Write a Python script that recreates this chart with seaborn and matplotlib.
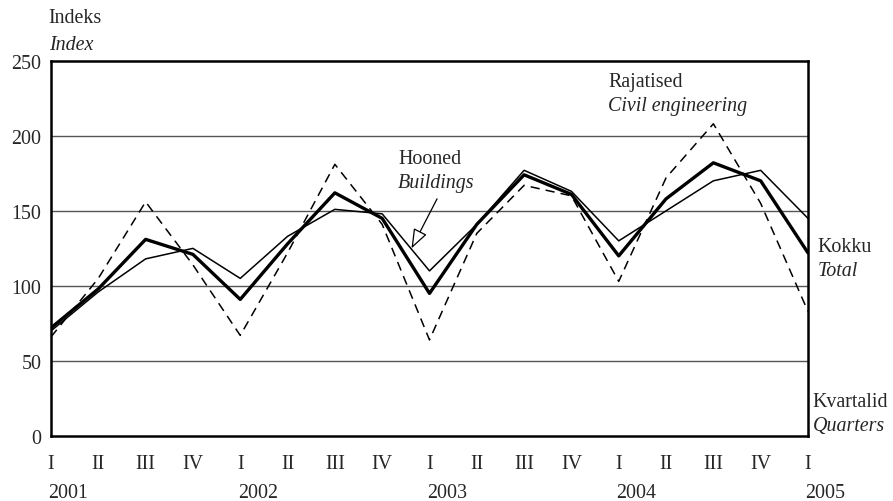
import numpy as np
import pandas as pd
import matplotlib
matplotlib.use("Agg")
import matplotlib.pyplot as plt
import seaborn as sns

# quarters 2001 I .. 2005 I
quarters = ["I", "II", "III", "IV"] * 4 + ["I"]
years = ["2001", "2002", "2003", "2004", "2005"]

total = [72, 98, 131, 121, 91, 128, 162, 145, 95, 141, 174, 161, 120, 158, 182, 170, 122]
buildings = [70, 96, 118, 125, 105, 133, 151, 148, 110, 141, 177, 163, 130, 150, 170, 177, 145]
civil = [66, 105, 156, 114, 67, 122, 181, 141, 64, 135, 167, 160, 103, 172, 208, 155, 83]

df = pd.DataFrame({"q": np.arange(len(total)), "total": total,
                   "buildings": buildings, "civil": civil})

sns.set_style("white")
plt.rcParams['font.family'] = ['Liberation Serif', 'DejaVu Serif']
fs = 14.4

fig = plt.figure(figsize=(8.93, 5.02), dpi=100)
ax = fig.add_axes([0.0571, 0.1295, 0.9048 - 0.0571, 0.877 - 0.1295])

for v in [50, 100, 150, 200]:
    ax.axhline(v, color="#555555", lw=1.0, zorder=1)

sns.lineplot(data=df, x="q", y="civil", ax=ax, color="black", lw=1.1, zorder=3)
ax.lines[-1].set_dashes((6, 4))
sns.lineplot(data=df, x="q", y="buildings", ax=ax, color="black", lw=1.1, zorder=4)
sns.lineplot(data=df, x="q", y="total", ax=ax, color="black", lw=2.4, zorder=5)

ax.set_xlim(0, 16)
ax.set_ylim(0, 250)
ax.set_yticks([0, 50, 100, 150, 200, 250])
ax.set_xticks(df["q"])
ax.set_xticklabels(quarters, fontsize=fs)
ax.tick_params(axis="x", direction="in", length=5, width=1, pad=13)
ax.tick_params(axis="y", length=0, pad=7, labelsize=fs)
ax.set_xlabel("")
ax.set_ylabel("")
for s in ax.spines.values():
    s.set_linewidth(1.8)
    s.set_color("black")

trans = ax.get_xaxis_transform()
for i, yr in enumerate(years):
    ax.text(i * 4 - 0.05, -0.125, yr, transform=trans, ha="left", va="top",
            fontsize=fs, clip_on=False)

ax.text(-0.05, 279, "Indeks", fontsize=fs, va="center", ha="left", clip_on=False)
ax.text(-0.05, 261, "Index", fontsize=fs, va="center", ha="left", style="italic", clip_on=False)

ax.text(7.34, 185, "Hooned", fontsize=fs, va="center", ha="left")
ax.text(7.34, 169, "Buildings", fontsize=fs, va="center", ha="left", style="italic")
ax.annotate("", xy=(7.62, 125), xytext=(8.16, 158),
            arrowprops=dict(arrowstyle="-|>,head_length=1.2,head_width=0.45",
                            facecolor="white", edgecolor="black", lw=0.9,
                            shrinkA=0, shrinkB=0))

ax.text(11.78, 236, "Rajatised", fontsize=fs, va="center", ha="left")
ax.text(11.78, 220, "Civil engineering", fontsize=fs, va="center", ha="left", style="italic")

ax.text(16.2, 126, "Kokku", fontsize=fs, va="center", ha="left", clip_on=False)
ax.text(16.2, 110, "Total", fontsize=fs, va="center", ha="left", style="italic", clip_on=False)

ax.text(16.1, 23, "Kvartalid", fontsize=fs, va="center", ha="left", clip_on=False)
ax.text(16.1, 7, "Quarters", fontsize=fs, va="center", ha="left", style="italic", clip_on=False)

fig.savefig("out.png", dpi=100)
